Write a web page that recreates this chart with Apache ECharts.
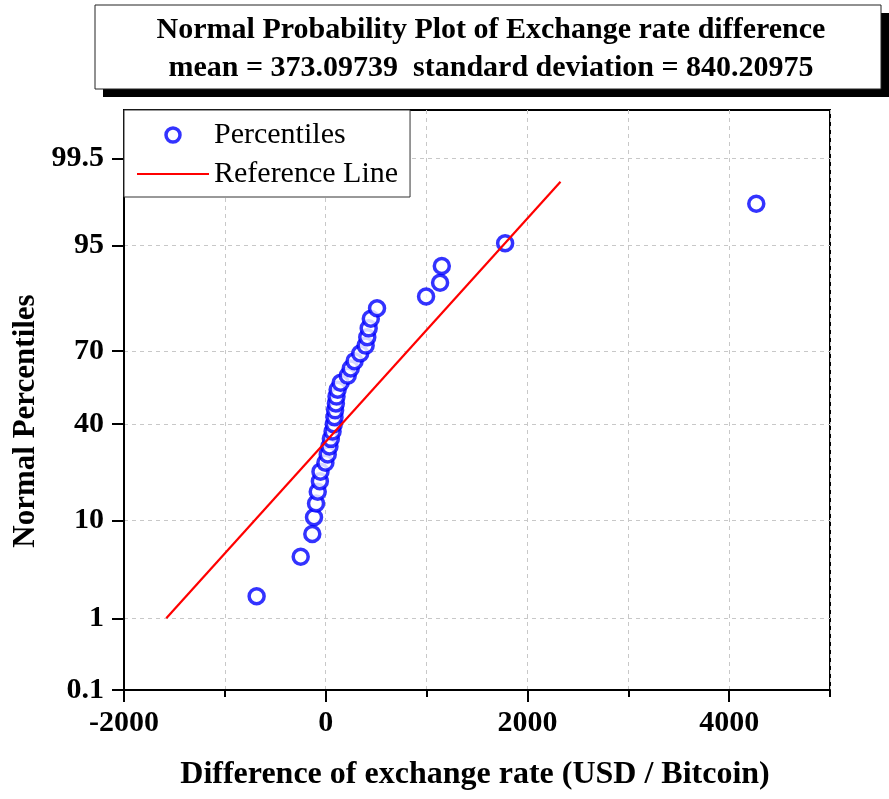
<!DOCTYPE html>
<html>
<head>
<meta charset="utf-8">
<script src="https://cdn.jsdelivr.net/npm/echarts@6/dist/echarts.min.js"></script>
<style>
  html, body { margin: 0; padding: 0; background: #fff; }
  #chart { width: 889px; height: 799px; }
</style>
</head>
<body>
<div id="chart"></div>
<script>
// Plotting positions (percent) of the sorted sample, and the sorted sample values
const percentiles = [1.825, 4.745, 7.664, 10.584, 13.504, 16.423, 19.343, 22.263, 25.182,
  28.102, 31.022, 33.942, 36.861, 39.781, 42.701, 45.620, 48.540, 51.460, 54.380, 57.299,
  60.219, 63.139, 66.058, 68.978, 71.898, 74.818, 77.737, 80.657, 83.577, 86.496, 89.416,
  92.336, 95.255, 98.175];
const rateDiff = [-685, -248, -133, -116, -96, -79, -58, -52, -3, 20, 37, 51, 68, 80, 87,
  93, 101, 107, 118, 148, 218, 248, 286, 342, 396, 412, 426, 447, 509, 995, 1134, 1151,
  1779, 4269];

// Fitted normal reference line, drawn between the 1st and 99th percentiles
const refPercentiles = [1, 99];
const refRateDiff = [-1581, 2328];

// Probability-axis ticks (percent) and their labels
const probTicks = [0.1, 1, 10, 40, 70, 95, 99.5];
const probTickLabels = ['0.1', '1', '10', '40', '70', '95', '99.5'];
const probRange = [0.1, 99.9];

// X-axis: labelled major ticks and range
const xMajorTicks = [-2000, 0, 2000, 4000];
const xRange = [-2000, 5000];

const titleLines = [
  'Normal Probability Plot of Exchange rate difference',
  'mean = 373.09739  standard deviation = 840.20975'
];

// Inverse standard normal CDF (Acklam's rational approximation)
function probit(p) {
  const a = [-3.969683028665376e+01, 2.209460984245205e+02, -2.759285104469687e+02,
             1.383577518672690e+02, -3.066479806614716e+01, 2.506628277459239e+00];
  const b = [-5.447609879822406e+01, 1.615858368580409e+02, -1.556989798598866e+02,
             6.680131188771972e+01, -1.328068155288572e+01];
  const c = [-7.784894002430293e-03, -3.223964580411365e-01, -2.400758277161838e+00,
             -2.549732539343734e+00, 4.374664141464968e+00, 2.938163982698783e+00];
  const d = [7.784695709041462e-03, 3.224671290700398e-01, 2.445134137142996e+00,
             3.754408661907416e+00];
  const pl = 0.02425;
  let q, r;
  if (p < pl) {
    q = Math.sqrt(-2 * Math.log(p));
    return (((((c[0]*q+c[1])*q+c[2])*q+c[3])*q+c[4])*q+c[5]) /
           ((((d[0]*q+d[1])*q+d[2])*q+d[3])*q+1);
  }
  if (p > 1 - pl) {
    q = Math.sqrt(-2 * Math.log(1 - p));
    return -(((((c[0]*q+c[1])*q+c[2])*q+c[3])*q+c[4])*q+c[5]) /
            ((((d[0]*q+d[1])*q+d[2])*q+d[3])*q+1);
  }
  q = p - 0.5; r = q * q;
  return (((((a[0]*r+a[1])*r+a[2])*r+a[3])*r+a[4])*r+a[5])*q /
         (((((b[0]*r+b[1])*r+b[2])*r+b[3])*r+b[4])*r+1);
}
const toZ = pct => probit(pct / 100);

const zTicks = probTicks.map(toZ);
function probLabel(z) {
  for (let i = 0; i < zTicks.length; i++) {
    if (Math.abs(zTicks[i] - z) < 1e-6) return probTickLabels[i];
  }
  return '';
}

const FONT = '"Liberation Serif", "Times New Roman", serif';
const black = '#000';
const blue = '#0000ff';
const red = '#ff0000';
const gridLine = { color: '#c8c8c8', type: [4, 4], width: 1 };
const markerStyle = { color: '#fff', borderColor: blue, borderWidth: 3.5 };

const chart = echarts.init(document.getElementById('chart'), null, { renderer: 'canvas' });

chart.setOption({
  animation: false,
  backgroundColor: '#fff',
  grid: {
    left: 124, right: 59, top: 110, bottom: 109,
    show: true, borderColor: black, borderWidth: 2, backgroundColor: 'transparent'
  },
  xAxis: [
    {
      type: 'value', min: xRange[0], max: xRange[1], interval: 1000, position: 'bottom',
      axisLine: { show: true, onZero: false, lineStyle: { color: black, width: 2 } },
      axisTick: { show: true, length: 7, lineStyle: { color: black, width: 2 } },
      axisLabel: {
        margin: 18, color: black, fontFamily: FONT, fontWeight: 'bold', fontSize: 30,
        formatter: v => (xMajorTicks.indexOf(v) >= 0 ? String(v) : '')
      },
      splitLine: { show: true, lineStyle: gridLine }
    },
    {
      type: 'value', min: xRange[0], max: xRange[1], position: 'bottom',
      axisLine: { show: false, onZero: false },
      axisTick: { show: true, length: 12, customValues: xMajorTicks, lineStyle: { color: black, width: 2 } },
      axisLabel: { show: false },
      splitLine: { show: false }
    }
  ],
  yAxis: {
    type: 'value', min: toZ(probRange[0]), max: toZ(probRange[1]),
    axisLine: { show: true, onZero: false, lineStyle: { color: black, width: 2 } },
    axisTick: { show: true, length: 12, customValues: zTicks, lineStyle: { color: black, width: 2 } },
    axisLabel: {
      customValues: zTicks, margin: 20, color: black, fontFamily: FONT,
      fontWeight: 'bold', fontSize: 30, formatter: probLabel
    },
    splitLine: { show: true, lineStyle: gridLine }
  },
  legend: {
    orient: 'vertical', left: 124, top: 110,
    padding: [10, 12, 8, 12], itemGap: 9, itemWidth: 72, itemHeight: 14,
    backgroundColor: '#fff', borderColor: '#333', borderWidth: 1,
    textStyle: { fontFamily: FONT, fontSize: 30, color: black, lineHeight: 30 },
    data: [
      { name: 'Percentiles', icon: 'circle', itemStyle: markerStyle },
      { name: 'Reference Line', itemStyle: { opacity: 0 }, lineStyle: { color: red, width: 2 } }
    ]
  },
  series: [
    {
      name: 'Percentiles', type: 'scatter', xAxisIndex: 0, z: 2,
      symbol: 'circle', symbolSize: 15,
      itemStyle: markerStyle,
      data: rateDiff.map((x, i) => [x, toZ(percentiles[i])])
    },
    {
      name: 'Reference Line', type: 'line', xAxisIndex: 0, z: 3,
      symbol: 'none', showSymbol: false,
      lineStyle: { color: red, width: 2.2 },
      itemStyle: { color: red },
      data: refRateDiff.map((x, i) => [x, toZ(refPercentiles[i])])
    }
  ],
  graphic: [
    { type: 'rect', shape: { x: 103, y: 13, width: 786, height: 84 }, style: { fill: black } },
    { type: 'rect', shape: { x: 95, y: 5, width: 786, height: 84 },
      style: { fill: '#fff', stroke: '#222', lineWidth: 1 } },
    { type: 'text', x: 491, y: 30,
      style: { text: titleLines[0], font: 'bold 30px ' + FONT, fill: black,
               textAlign: 'center', textVerticalAlign: 'middle' } },
    { type: 'text', x: 491, y: 68,
      style: { text: titleLines[1], font: 'bold 30px ' + FONT, fill: black,
               textAlign: 'center', textVerticalAlign: 'middle' } },
    { type: 'text', x: 475, y: 775,
      style: { text: 'Difference of exchange rate (USD / Bitcoin)', font: 'bold 32px ' + FONT,
               fill: black, textAlign: 'center', textVerticalAlign: 'middle' } },
    { type: 'text', x: 26, y: 421, rotation: Math.PI / 2,
      style: { text: 'Normal Percentiles', font: 'bold 31px ' + FONT, fill: black,
               textAlign: 'center', textVerticalAlign: 'middle' } }
  ]
});
</script>
</body>
</html>
